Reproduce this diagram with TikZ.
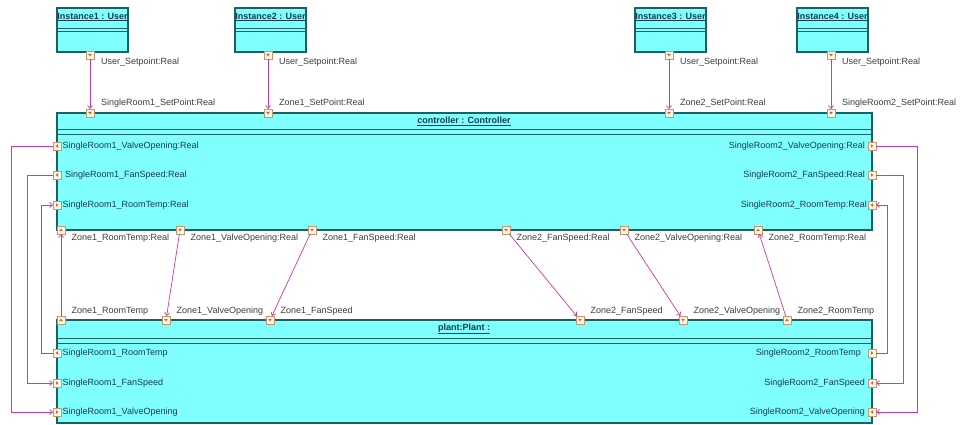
\documentclass[tikz,border=0pt]{standalone}
\usepackage{fontspec}
\setmainfont{Liberation Sans}
\usetikzlibrary{positioning,arrows.meta}

\definecolor{objfill}{RGB}{128,255,255}
\definecolor{objdraw}{RGB}{30,95,95}
\definecolor{objtext}{RGB}{20,60,80}
\definecolor{portfill}{RGB}{255,244,225}
\definecolor{portdraw}{RGB}{200,150,110}
\definecolor{portmark}{RGB}{170,115,55}
\definecolor{linkcol}{RGB}{200,60,165}
\definecolor{labelcol}{RGB}{60,60,60}

\tikzset{
  objbox/.style={fill=objfill, draw=objdraw, line width=1.2pt},
  sepline/.style={draw=objdraw, line width=0.8pt},
  otitle/.style={font=\fontsize{9}{10}\selectfont\bfseries, text=objtext, inner sep=0pt},
  plabel/.style={font=\fontsize{9}{10}\selectfont, text=labelcol, inner sep=0pt, text height=6.5pt, text depth=2pt},
  ilabel/.style={plabel, text=objtext},
  port/.style={rectangle, draw=portdraw, fill=portfill, minimum size=7.5pt, inner sep=0pt},
  pdown/.style={port, path picture={\fill[portmark] ([shift={(-1.8pt,1pt)}]path picture bounding box.center) -- ++(3.6pt,0) -- ++(-1.8pt,-2.4pt) -- cycle;}},
  pup/.style={port, path picture={\fill[portmark] ([shift={(-1.8pt,-1pt)}]path picture bounding box.center) -- ++(3.6pt,0) -- ++(-1.8pt,2.4pt) -- cycle;}},
  pleft/.style={port, path picture={\fill[portmark] ([shift={(1pt,-1.8pt)}]path picture bounding box.center) -- ++(0,3.6pt) -- ++(-2.4pt,-1.8pt) -- cycle;}},
  pright/.style={port, path picture={\fill[portmark] ([shift={(-1pt,-1.8pt)}]path picture bounding box.center) -- ++(0,3.6pt) -- ++(2.4pt,-1.8pt) -- cycle;}},
  link/.style={draw=linkcol, line width=0.7pt, -{Straight Barb[length=3pt,width=5pt]}}
}

\begin{document}
\begin{tikzpicture}[x=1pt, y={(0pt,-1pt)}]
  \useasboundingbox (0,0) rectangle (962,425);

  % Draw the user instances
  \foreach \n/\x in {1/57, 2/235, 3/635, 4/797} {
    \filldraw[objbox] (\x,8) rectangle ++(71,44);
    \draw[sepline] (\x,28) -- ++(71,0);
    \draw[sepline] (\x,31) -- ++(71,0);
    \node[otitle] (inst\n) at (\x+35.5,17) {\underline{Instance\n\ : User}};
  }

  % Draw the controller and the plant
  \filldraw[objbox] (57,113) rectangle (872,230);
  \draw[sepline] (57,129) -- (872,129);
  \draw[sepline] (57,134) -- (872,134);
  \node[otitle] (ctrl) at (464,121) {\underline{controller : Controller}};

  \filldraw[objbox] (57,320) rectangle (872,423);
  \draw[sepline] (57,338) -- (872,338);
  \draw[sepline] (57,343) -- (872,343);
  \node[otitle] (plant) at (464,329) {\underline{plant:Plant :}};

  % Ports of the instances
  \node[pdown] (u1) at (90,55) {};
  \node[pdown] (u2) at (268,55) {};
  \node[pdown] (u3) at (669,55) {};
  \node[pdown] (u4) at (831,55) {};

  % Ports of the controller
  \node[pdown] (cSR1sp) at (90,113) {};
  \node[pdown] (cZ1sp) at (268,113) {};
  \node[pdown] (cZ2sp) at (669,113) {};
  \node[pdown] (cSR2sp) at (831,113) {};

  \node[pleft] (cSR1vo) at (57,146) {};
  \node[pleft] (cSR1fs) at (57,175) {};
  \node[pright] (cSR1rt) at (57,205) {};
  \node[pright] (cSR2vo) at (872,146) {};
  \node[pright] (cSR2fs) at (872,175) {};
  \node[pleft] (cSR2rt) at (872,205) {};

  \node[pup] (cZ1rt) at (61,230) {};
  \node[pdown] (cZ1vo) at (180,230) {};
  \node[pdown] (cZ1fs) at (312,230) {};
  \node[pdown] (cZ2fs) at (506,230) {};
  \node[pdown] (cZ2vo) at (624,230) {};
  \node[pup] (cZ2rt) at (758,230) {};

  % Ports of the plant
  \node[pup] (pZ1rt) at (61,320) {};
  \node[pdown] (pZ1vo) at (166,320) {};
  \node[pdown] (pZ1fs) at (270,320) {};
  \node[pdown] (pZ2fs) at (580,320) {};
  \node[pdown] (pZ2vo) at (683,320) {};
  \node[pup] (pZ2rt) at (787,320) {};

  \node[pleft] (pSR1rt) at (57,353) {};
  \node[pright] (pSR1fs) at (57,383) {};
  \node[pright] (pSR1vo) at (57,412) {};
  \node[pright] (pSR2rt) at (872,353) {};
  \node[pleft] (pSR2fs) at (872,383) {};
  \node[pleft] (pSR2vo) at (872,412) {};

  % Port labels
  \foreach \p in {u1,u2,u3,u4}
    \node[plabel, below right=-1pt and 7pt of \p] (l\p) {User\_Setpoint:Real};

  \node[plabel, above right=1pt and 7pt of cSR1sp] (lcSR1sp) {SingleRoom1\_SetPoint:Real};
  \node[plabel, above right=1pt and 7pt of cZ1sp] (lcZ1sp) {Zone1\_SetPoint:Real};
  \node[plabel, above right=1pt and 7pt of cZ2sp] (lcZ2sp) {Zone2\_SetPoint:Real};
  \node[plabel, above right=1pt and 7pt of cSR2sp] (lcSR2sp) {SingleRoom2\_SetPoint:Real};

  \node[ilabel, right=1.5pt of cSR1vo] (lcSR1vo) {SingleRoom1\_ValveOpening:Real};
  \node[ilabel, right=4pt of cSR1fs] (lcSR1fs) {SingleRoom1\_FanSpeed:Real};
  \node[ilabel, right=1.5pt of cSR1rt] (lcSR1rt) {SingleRoom1\_RoomTemp:Real};
  \node[ilabel, left=3pt of cSR2vo] (lcSR2vo) {SingleRoom2\_ValveOpening:Real};
  \node[ilabel, left=3pt of cSR2fs] (lcSR2fs) {SingleRoom2\_FanSpeed:Real};
  \node[ilabel, left=1pt of cSR2rt] (lcSR2rt) {SingleRoom2\_RoomTemp:Real};

  \node[plabel, below right=-0.5pt and 6.5pt of cZ1rt] (lcZ1rt) {Zone1\_RoomTemp:Real};
  \node[plabel, below right=-0.5pt and 6.5pt of cZ1vo] (lcZ1vo) {Zone1\_ValveOpening:Real};
  \node[plabel, below right=-0.5pt and 6.5pt of cZ1fs] (lcZ1fs) {Zone1\_FanSpeed:Real};
  \node[plabel, below right=-0.5pt and 6.5pt of cZ2fs] (lcZ2fs) {Zone2\_FanSpeed:Real};
  \node[plabel, below right=-0.5pt and 6.5pt of cZ2vo] (lcZ2vo) {Zone2\_ValveOpening:Real};
  \node[plabel, below right=-0.5pt and 6.5pt of cZ2rt] (lcZ2rt) {Zone2\_RoomTemp:Real};

  \node[plabel, above right=0pt and 6.5pt of pZ1rt] (lpZ1rt) {Zone1\_RoomTemp};
  \node[plabel, above right=0pt and 6.5pt of pZ1vo] (lpZ1vo) {Zone1\_ValveOpening};
  \node[plabel, above right=0pt and 6.5pt of pZ1fs] (lpZ1fs) {Zone1\_FanSpeed};
  \node[plabel, above right=0pt and 6.5pt of pZ2fs] (lpZ2fs) {Zone2\_FanSpeed};
  \node[plabel, above right=0pt and 6.5pt of pZ2vo] (lpZ2vo) {Zone2\_ValveOpening};
  \node[plabel, above right=0pt and 6.5pt of pZ2rt] (lpZ2rt) {Zone2\_RoomTemp};

  \node[ilabel, right=1.5pt of pSR1rt] (lpSR1rt) {SingleRoom1\_RoomTemp};
  \node[ilabel, right=1.5pt of pSR1fs] (lpSR1fs) {SingleRoom1\_FanSpeed};
  \node[ilabel, right=1.5pt of pSR1vo] (lpSR1vo) {SingleRoom1\_ValveOpening};
  \node[ilabel, left=7pt of pSR2rt] (lpSR2rt) {SingleRoom2\_RoomTemp};
  \node[ilabel, left=3pt of pSR2fs] (lpSR2fs) {SingleRoom2\_FanSpeed};
  \node[ilabel, left=3pt of pSR2vo] (lpSR2vo) {SingleRoom2\_ValveOpening};

  % Set point connectors
  \draw[link] (u1) -- (cSR1sp);
  \draw[link] (u2) -- (cZ1sp);
  \draw[link] (u3) -- (cZ2sp);
  \draw[link] (u4) -- (cSR2sp);

  % Zone connectors
  \draw[link] (pZ1rt) -- (cZ1rt);
  \draw[link] (cZ1vo) -- (pZ1vo);
  \draw[link] (cZ1fs) -- (pZ1fs);
  \draw[link] (cZ2fs) -- (pZ2fs);
  \draw[link] (cZ2vo) -- (pZ2vo);
  \draw[link] (pZ2rt) -- (cZ2rt);

  % Single room connectors
  \draw[link] (cSR1vo.west) -- ++(-41.5,0) |- (pSR1vo.west);
  \draw[link] (cSR1fs.west) -- ++(-25.5,0) |- (pSR1fs.west);
  \draw[link] (pSR1rt.west) -- ++(-11.5,0) |- (cSR1rt.west);
  \draw[link] (cSR2vo.east) -- ++(41.5,0) |- (pSR2vo.east);
  \draw[link] (cSR2fs.east) -- ++(27.5,0) |- (pSR2fs.east);
  \draw[link] (pSR2rt.east) -- ++(11.5,0) |- (cSR2rt.east);

\end{tikzpicture}
\end{document}
